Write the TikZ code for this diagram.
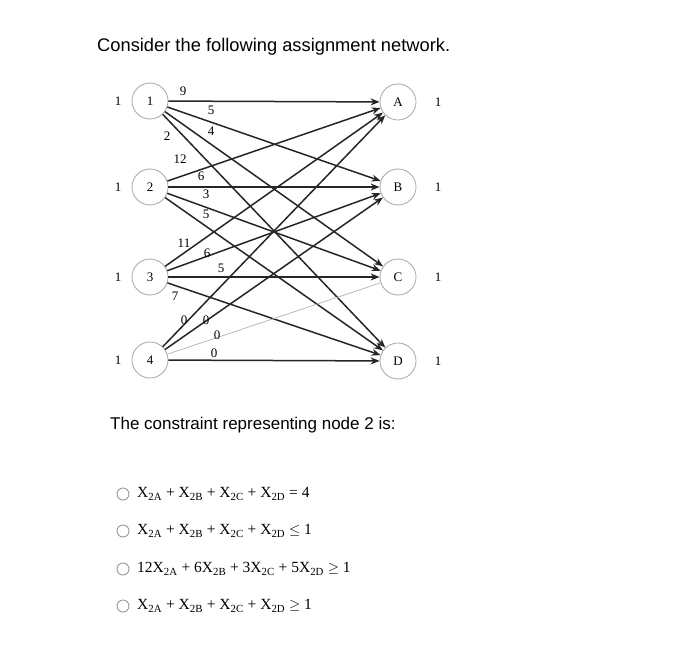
\documentclass[tikz,border=0pt]{standalone}
\usepackage{fontspec}
\setmainfont{Liberation Serif}
\newfontfamily\hsans{Liberation Sans}
\usetikzlibrary{arrows.meta}
\begin{document}
\begin{tikzpicture}[x=1pt,y=-1pt,
  nd/.style={circle,draw=gray!70,line width=0.8pt,minimum size=36pt,inner sep=0pt,font=\fontsize{13}{13}\selectfont},
  arc/.style={-{Stealth[length=9pt,width=7pt]},line width=1.5pt,black!85},
  lab/.style={font=\fontsize{13}{13}\selectfont,inner sep=1pt},
  sup/.style={font=\fontsize{13}{13}\selectfont},
  radio/.style={circle,draw=gray!80,line width=0.9pt,minimum size=12pt,inner sep=0pt},
  opt/.style={anchor=west,font=\fontsize{15.5}{15.5}\selectfont,inner sep=0pt}]
\fill[white] (0,0) rectangle (700,660);
\useasboundingbox (0,0) rectangle (700,660);
\node[anchor=west,font=\hsans\fontsize{18.3}{18.3}\selectfont,inner sep=0pt] (title) at (97,47) {Consider the following assignment network.};
\node[nd] (n1) at (150,101) {1};
\node[nd] (n2) at (150,187) {2};
\node[nd] (n3) at (150,277) {3};
\node[nd] (n4) at (150,360) {4};
\node[nd] (nA) at (398,102) {A};
\node[nd] (nB) at (398,187) {B};
\node[nd] (nC) at (398,277) {C};
\node[nd] (nD) at (398,361) {D};
\foreach \n/\y in {1/101,2/187,3/277,4/360}{\node[sup] (s\n) at (118,\y) {1};}
\foreach \n/\y in {A/102,B/187,C/277,D/361}{\node[sup] (t\n) at (438,\y) {1};}
% arcs
\draw[arc] (n1) -- (nA);
\draw[arc] (n1) -- (nB);
\draw[arc] (n1) -- (nC);
\draw[arc] (n1) -- (nD);
\draw[arc] (n2) -- (nA);
\draw[arc] (n2) -- (nB);
\draw[arc] (n2) -- (nC);
\draw[arc] (n2) -- (nD);
\draw[arc] (n3) -- (nA);
\draw[arc] (n3) -- (nB);
\draw[arc] (n3) -- (nC);
\draw[arc] (n3) -- (nD);
\draw[arc] (n4) -- (nA);
\draw[arc] (n4) -- (nB);
\draw[gray!60,line width=0.7pt] (n4) -- (nC);
\draw[arc] (n4) -- (nD);
% labels
\node[lab] (l1A) at (183,91) {9};
\node[lab] (l1B) at (211,110) {5};
\node[lab] (l1C) at (211,131) {4};
\node[lab] (l1D) at (167,136) {2};
\node[lab] (l2A) at (180,159) {12};
\node[lab] (l2B) at (201,176) {6};
\node[lab] (l2C) at (206,194) {3};
\node[lab] (l2D) at (206,214) {5};
\node[lab] (l3A) at (184,243) {11};
\node[lab] (l3B) at (207,253) {6};
\node[lab] (l3C) at (221,268) {5};
\node[lab] (l3D) at (175,296) {7};
\node[lab] (l4A) at (184,320) {0};
\node[lab] (l4B) at (206,320) {0};
\node[lab] (l4C) at (217,335) {0};
\node[lab] (l4D) at (214,353) {0};
\node[anchor=west,font=\hsans\fontsize{17}{17}\selectfont,inner sep=0pt] (q) at (110,425) {The constraint representing node 2 is:};
\node[radio] (r1) at (123,494) {};
\node[radio] (r2) at (123,531) {};
\node[radio] (r3) at (123,569) {};
\node[radio] (r4) at (123,606) {};
\node[opt] (o1) at (137,494) {X\textsubscript{2A} + X\textsubscript{2B} + X\textsubscript{2C} + X\textsubscript{2D} = 4};
\node[opt] (o2) at (137,531) {X\textsubscript{2A} + X\textsubscript{2B} + X\textsubscript{2C} + X\textsubscript{2D} $\leq$ 1};
\node[opt] (o3) at (137,569) {12X\textsubscript{2A} + 6X\textsubscript{2B} + 3X\textsubscript{2C} + 5X\textsubscript{2D} $\geq$ 1};
\node[opt] (o4) at (137,606) {X\textsubscript{2A} + X\textsubscript{2B} + X\textsubscript{2C} + X\textsubscript{2D} $\geq$ 1};
\end{tikzpicture}
\end{document}
